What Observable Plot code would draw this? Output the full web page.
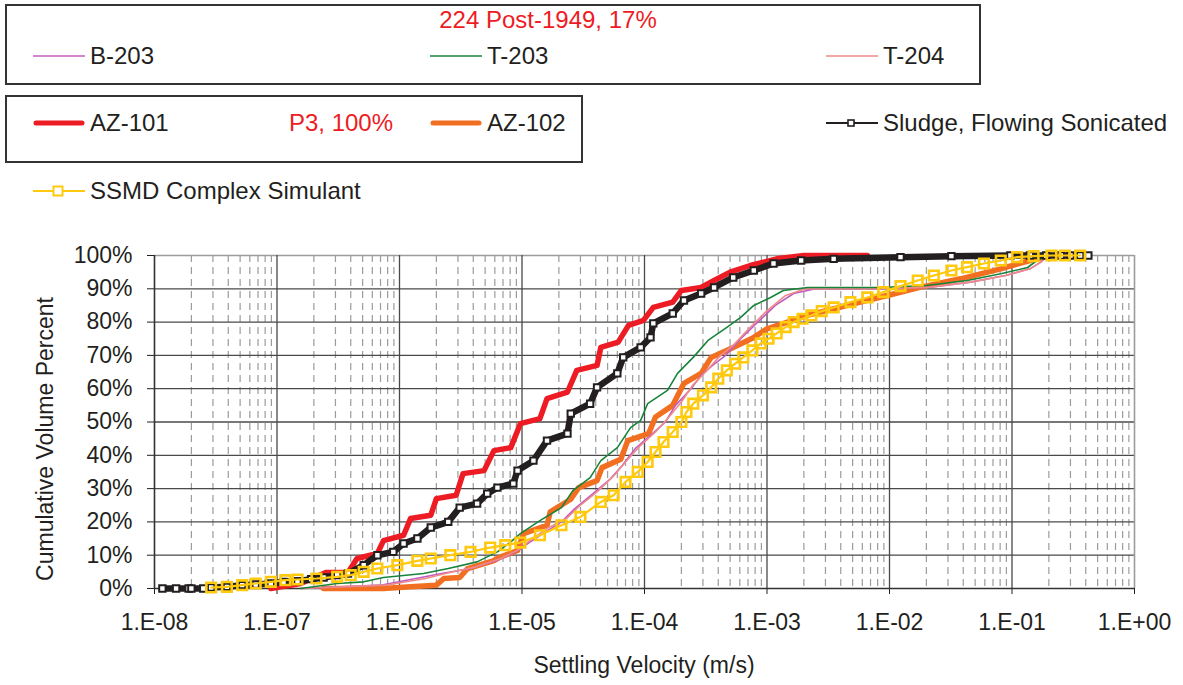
<!DOCTYPE html>
<html>
<head>
<meta charset="utf-8">
<script src="https://cdn.jsdelivr.net/npm/d3@7"></script>
<script src="https://cdn.jsdelivr.net/npm/@observablehq/plot@0.6"></script>
<style>
  html, body { margin: 0; padding: 0; background: #fff; }
  body { width: 1183px; height: 685px; position: relative; overflow: hidden;
         font-family: 'Liberation Sans', Arial, Helvetica, sans-serif; color: #231F20; }
  .box { position: absolute; box-sizing: border-box; border: 2px solid #333; }
  .item { position: absolute; display: flex; align-items: center; height: 30px; font-size: 24px; white-space: nowrap; }
  .item svg { display: block; margin-right: 5px; }
  .note { position: absolute; font-size: 24px; color: #ED1C24; white-space: nowrap; line-height: 30px; height: 30px; }
  #chart { position: absolute; left: 0; top: 230px; }
  .axlabel { position: absolute; font-size: 23px; white-space: nowrap; line-height: 28px; }
</style>
</head>
<body>
<div class="box" style="left:5px;top:4px;width:976px;height:81px;"></div>
<div class="box" style="left:5px;top:95px;width:578px;height:68px;"></div>
<div id="legend"></div>
<div id="chart"></div>
<div class="axlabel" id="xlab" style="left:0;width:1288px;top:651px;text-align:center;">Settling Velocity (m/s)</div>
<div class="axlabel" id="ylab" style="left:45px;top:439px;transform:translate(-50%,-50%) rotate(-90deg);">Cumulative Volume Percent</div>
<script>
// ---------- data (velocity in m/s, cumulative volume percent) ----------
const seriesNames = ["B-203", "T-203", "T-204", "AZ-101", "AZ-102", "Sludge, Flowing Sonicated", "SSMD Complex Simulant"];
const groupLabels = ["224 Post-1949, 17%", "P3, 100%"];

const b203Vel = [1.56e-7, 7.0e-7, 1.5e-6, 2.2e-6, 3.8e-6, 6.3e-6, 8.9e-6, 1.17e-5, 1.56e-5, 2.1e-5, 2.7e-5, 3.8e-5, 5.3e-5, 6.6e-5, 8.4e-5, 1.12e-4, 1.48e-4, 1.79e-4, 2.4e-4, 2.9e-4, 3.6e-4, 4.6e-4, 6.1e-4, 8.4e-4, 1.17e-3, 1.65e-3, 2.49e-3, 8.4e-3, 2.16e-2, 4.58e-2, 8.85e-2, 0.14, 0.172, 0.195];
const b203Pct = [0, 1, 3.3, 4.5, 6, 8.5, 11, 14, 17, 20, 24, 28.5, 33, 37, 42, 46, 50, 55, 60, 64, 67, 70, 75, 80, 85, 88.6, 90, 90, 90.5, 92, 94, 96, 98, 100];

const t203Vel = [1.56e-7, 3.1e-7, 5.1e-7, 7.4e-7, 1.57e-6, 2.5e-6, 4.3e-6, 6.3e-6, 8.1e-6, 9.7e-6, 1.4e-5, 2.1e-5, 2.6e-5, 3.6e-5, 4.4e-5, 6.0e-5, 7.7e-5, 9.3e-5, 1.06e-4, 1.54e-4, 1.86e-4, 2.5e-4, 3.3e-4, 4.7e-4, 6.1e-4, 7.8e-4, 1.07e-3, 1.36e-3, 2.14e-3, 8.4e-3, 2.0e-2, 4.3e-2, 8.1e-2, 0.134, 0.16, 0.195];
const t203Pct = [0, 1.5, 2, 3.3, 4.5, 6, 8, 11, 14, 16.5, 20.4, 24.3, 29.4, 33.3, 38.4, 42.3, 48.3, 50.5, 55.5, 59.5, 64.6, 69.4, 74.5, 78.4, 81.4, 85, 87.4, 89.5, 90.4, 90.4, 91, 92.5, 94.5, 96.4, 98.5, 100];

const t204Vel = [1.56e-7, 7.7e-7, 1.63e-6, 2.37e-6, 4.2e-6, 6.7e-6, 9.2e-6, 1.22e-5, 1.6e-5, 2.3e-5, 3.0e-5, 4.1e-5, 5.5e-5, 7.0e-5, 9.3e-5, 1.23e-4, 1.54e-4, 2.0e-4, 2.47e-4, 3.15e-4, 4.17e-4, 5.3e-4, 7.1e-4, 9.72e-4, 1.42e-3, 2.06e-3, 8.4e-3, 2.16e-2, 4.58e-2, 8.85e-2, 0.14, 0.172, 0.195];
const t204Pct = [0, 1, 3, 4.5, 6.5, 9, 11.5, 15, 18, 21, 25, 29, 33.5, 38, 43, 47, 51, 56, 61, 65, 70, 73, 78, 83, 88, 90, 90, 90.5, 92, 94, 96, 98, 100];

const az101Vel = [8.9e-8, 1.56e-7, 2.5e-7, 3.8e-7, 4.5e-7, 6.6e-7, 7.4e-7, 1.08e-6, 1.23e-6, 1.8e-6, 2.0e-6, 2.9e-6, 3.3e-6, 4.9e-6, 5.9e-6, 8.1e-6, 9.7e-6, 1.4e-5, 1.6e-5, 2.35e-5, 2.8e-5, 4.1e-5, 4.4e-5, 6.1e-5, 7.4e-5, 9.8e-5, 1.18e-4, 1.7e-4, 2.0e-4, 2.9e-4, 3.7e-4, 5.0e-4, 7.3e-4, 1.2e-3, 2.0e-3, 6.6e-3];
const az101Pct = [0, 1.5, 4.8, 4.8, 9, 10.5, 14.4, 16, 21, 22, 27, 28, 34.5, 35.4, 41.4, 42.3, 49.5, 51, 57, 59, 65.5, 67, 72.4, 74, 79, 80.5, 84.4, 86, 89.5, 90.4, 92.5, 95, 97, 99, 100, 100];

const az102Vel = [2.4e-7, 7.4e-7, 1.23e-6, 2.0e-6, 2.3e-6, 3.1e-6, 3.6e-6, 5.9e-6, 6.7e-6, 9.2e-6, 1.03e-5, 1.6e-5, 1.7e-5, 2.5e-5, 2.9e-5, 4.1e-5, 4.5e-5, 6.4e-5, 7.3e-5, 1.08e-4, 1.23e-4, 1.7e-4, 2.1e-4, 2.9e-4, 3.5e-4, 5.3e-4, 7.8e-4, 1.0e-3, 1.47e-3, 2.14e-3, 3.5e-3, 6.6e-3, 9.63e-3, 1.8e-2, 3.8e-2, 8.1e-2, 0.14, 0.21];
const az102Pct = [0, 0, 0.5, 1, 3, 3.3, 6, 8.4, 9.5, 11.4, 16.5, 19, 23, 26.8, 30.3, 32.4, 36.3, 38.8, 44.4, 46.5, 51.5, 55, 61.6, 64.6, 69.4, 72.4, 75.4, 78, 80, 82, 84, 86.5, 88, 90.5, 93, 96, 98.5, 100];

const sludgeVel = [1.16e-8, 1.5e-8, 1.9e-8, 2.0e-8, 2.5e-8, 2.9e-8, 3.9e-8, 5.2e-8, 6.7e-8, 8.9e-8, 1.13e-7, 1.47e-7, 1.9e-7, 2.4e-7, 3.1e-7, 3.8e-7, 5.1e-7, 6.6e-7, 8.9e-7, 1.08e-6, 1.4e-6, 1.8e-6, 2.5e-6, 3.1e-6, 4.3e-6, 5.2e-6, 6.3e-6, 8.5e-6, 9.2e-6, 1.24e-5, 1.6e-5, 2.35e-5, 2.5e-5, 3.6e-5, 4.1e-5, 6.0e-5, 6.7e-5, 9.3e-5, 1.12e-4, 1.18e-4, 1.7e-4, 2.1e-4, 2.9e-4, 3.7e-4, 5.3e-4, 7.8e-4, 1.13e-3, 1.9e-3, 3.5e-3, 1.23e-2, 3.2e-2, 9.7e-2, 0.14, 0.19, 0.25, 0.30, 0.36, 0.42];
const sludgePct = [0, 0, 0, 0, 0, 0.3, 0.5, 1, 1.2, 1.5, 2, 2.2, 2.8, 3.3, 4, 4.5, 7, 10, 11, 13.5, 15, 18.3, 20, 24.3, 25.5, 28.5, 30.3, 31.5, 35.4, 38.4, 44.4, 46.5, 52.5, 55.5, 60.4, 64.6, 69.4, 72.4, 75.4, 79.6, 82.6, 86.5, 88.6, 90.4, 93.4, 95.5, 97.6, 98.5, 99, 99.5, 99.8, 100, 100, 100, 100, 100, 100, 100];

const ssmdVel = [2.9e-8, 3.9e-8, 5.2e-8, 6.7e-8, 8.9e-8, 1.17e-7, 1.47e-7, 2.1e-7, 3.1e-7, 4.0e-7, 5.1e-7, 6.6e-7, 9.6e-7, 1.4e-6, 1.8e-6, 2.6e-6, 3.8e-6, 5.5e-6, 7.3e-6, 9.7e-6, 1.4e-5, 2.1e-5, 3.0e-5, 4.4e-5, 5.6e-5, 7.0e-5, 8.8e-5, 1.06e-4, 1.23e-4, 1.43e-4, 1.7e-4, 2.0e-4, 2.2e-4, 2.5e-4, 3.0e-4, 3.5e-4, 4.0e-4, 4.7e-4, 5.5e-4, 6.4e-4, 7.6e-4, 8.9e-4, 1.03e-3, 1.2e-3, 1.42e-3, 1.65e-3, 1.95e-3, 2.3e-3, 2.8e-3, 3.5e-3, 4.8e-3, 6.6e-3, 8.9e-3, 1.23e-2, 1.7e-2, 2.3e-2, 3.2e-2, 4.3e-2, 5.9e-2, 8.1e-2, 0.11, 0.15, 0.21, 0.27, 0.36];
const ssmdPct = [0.3, 0.5, 1, 1.5, 2, 2.5, 2.7, 3, 3.5, 4, 5, 6, 7, 8.3, 9, 10, 11, 12.3, 13, 13.8, 16, 19, 21.5, 26, 28, 32, 35, 38, 41, 44, 47, 50, 53, 55.5, 58, 60.4, 63, 65.5, 67.5, 69.4, 71.5, 73.6, 75, 76.6, 78.5, 80, 81, 82, 83.3, 84.4, 86, 87.4, 89, 90.8, 92.5, 94, 95.5, 96.5, 97.6, 98.5, 99.5, 99.8, 100, 100, 100];

const decades = [1e-8, 1e-7, 1e-6, 1e-5, 1e-4, 1e-3, 1e-2, 1e-1, 1];
const minorMultipliers = [2, 3, 4, 5, 6, 7, 8, 9];
const yTicks = [0, 10, 20, 30, 40, 50, 60, 70, 80, 90, 100];

// ---------- styles ----------
const C = {
  b203: "#C05CBE", t203: "#17843A", t204: "#F08A8A",
  az101: "#ED1C24", az102: "#F26F22", sludge: "#231F20", ssmd: "#FFC90E",
  grid: "#4a4a4a", minor: "#9c9c9c", frame: "#9c9c9c"
};
const FONT = "'Liberation Sans', Arial, Helvetica, sans-serif";

const rows = (vel, pct) => vel.map((v, i) => ({v, p: pct[i]}));
const minorTicks = decades.slice(0, -1).flatMap(d => minorMultipliers.map(m => d * m));
const fmtX = v => {
  const e = Math.round(Math.log10(v));
  return "1.E" + (e < 0 ? "-" : "+") + String(Math.abs(e)).padStart(2, "0");
};

const sludgeRows = rows(sludgeVel, sludgePct);
const ssmdRows = rows(ssmdVel, ssmdPct);

const chart = Plot.plot({
  width: 1183, height: 455,
  marginTop: 25, marginBottom: 97, marginLeft: 154, marginRight: 49,
  style: {fontFamily: FONT, fontSize: "23px", color: "#231F20", background: "transparent", overflow: "visible"},
  x: {type: "log", domain: [1e-8, 1]},
  y: {domain: [0, 100]},
  marks: [
    Plot.ruleX(minorTicks, {stroke: C.minor, strokeWidth: 1.2, strokeDasharray: "7,5"}),
    Plot.ruleY(yTicks.filter(d => d > 0 && d < 100), {stroke: C.grid, strokeWidth: 1.3}),
    Plot.ruleY([100], {stroke: C.frame, strokeWidth: 1.6}),
    Plot.ruleX(decades.slice(1, -1), {stroke: C.grid, strokeWidth: 1.3}),
    Plot.ruleX([1], {stroke: C.frame, strokeWidth: 1.6}),
    Plot.axisX({ticks: decades, tickFormat: fmtX, tickSize: 6, tickPadding: 19, label: null, fontSize: 23}),
    Plot.axisY({ticks: yTicks, tickFormat: d => d + "%", tickSize: 7, tickPadding: 15, label: null, fontSize: 23}),
    Plot.ruleX([1e-8], {stroke: "#333", strokeWidth: 1.6}),
    Plot.ruleY([0], {stroke: "#333", strokeWidth: 1.6}),
    Plot.line(rows(az101Vel, az101Pct), {x: "v", y: "p", stroke: C.az101, strokeWidth: 5.5}),
    Plot.line(rows(az102Vel, az102Pct), {x: "v", y: "p", stroke: C.az102, strokeWidth: 5.5}),
    Plot.line(rows(b203Vel, b203Pct), {x: "v", y: "p", stroke: C.b203, strokeWidth: 1.6}),
    Plot.line(rows(t204Vel, t204Pct), {x: "v", y: "p", stroke: C.t204, strokeWidth: 1.6}),
    Plot.line(rows(t203Vel, t203Pct), {x: "v", y: "p", stroke: C.t203, strokeWidth: 1.6}),
    Plot.line(sludgeRows, {x: "v", y: "p", stroke: C.sludge, strokeWidth: 6.5}),
    Plot.dot(sludgeRows, {x: "v", y: "p", symbol: "square", r: 3.6, fill: "#fff", stroke: C.sludge, strokeWidth: 2}),
    Plot.line(ssmdRows, {x: "v", y: "p", stroke: C.ssmd, strokeWidth: 2.2}),
    Plot.dot(ssmdRows, {x: "v", y: "p", symbol: "square", r: 5.4, fill: "none", stroke: C.ssmd, strokeWidth: 2.6})
  ]
});
document.getElementById("chart").appendChild(chart);

// ---------- legend ----------
const legend = document.getElementById("legend");
function swatch(color, width, marker) {
  let m = "";
  if (marker === "black") m = `<rect x="22" y="7" width="6" height="6" fill="#fff" stroke="${color}" stroke-width="1.6"/>`;
  if (marker === "yellow") m = `<rect x="20.5" y="5.5" width="9" height="9" fill="#fff" stroke="${color}" stroke-width="2"/>`;
  const cap = width > 3 ? "round" : "butt";
  return `<svg width="52" height="20"><line x1="${width > 3 ? 3 : 0}" y1="10" x2="${width > 3 ? 49 : 52}" y2="10" stroke="${color}" stroke-width="${width}" stroke-linecap="${cap}"/>${m}</svg>`;
}
function addItem(x, y, color, width, marker, label) {
  const d = document.createElement("div");
  d.className = "item";
  d.style.left = x + "px";
  d.style.top = (y - 15) + "px";
  d.innerHTML = swatch(color, width, marker) + `<span>${label}</span>`;
  legend.appendChild(d);
}
function addNote(cx, y, text) {
  const d = document.createElement("div");
  d.className = "note";
  d.style.left = cx + "px";
  d.style.top = (y - 15) + "px";
  d.style.transform = "translateX(-50%)";
  d.textContent = text;
  legend.appendChild(d);
}
addNote(548, 20, groupLabels[0]);
addItem(33, 56, C.b203, 1.6, null, seriesNames[0]);
addItem(430, 56, C.t203, 1.6, null, seriesNames[1]);
addItem(826, 56, C.t204, 1.6, null, seriesNames[2]);
addItem(33, 123, C.az101, 5, null, seriesNames[3]);
addNote(341, 123, groupLabels[1]);
addItem(430, 123, C.az102, 5, null, seriesNames[4]);
addItem(826, 123, C.sludge, 1.8, "black", seriesNames[5]);
addItem(33, 191, C.ssmd, 1.8, "yellow", seriesNames[6]);
</script>
</body>
</html>
